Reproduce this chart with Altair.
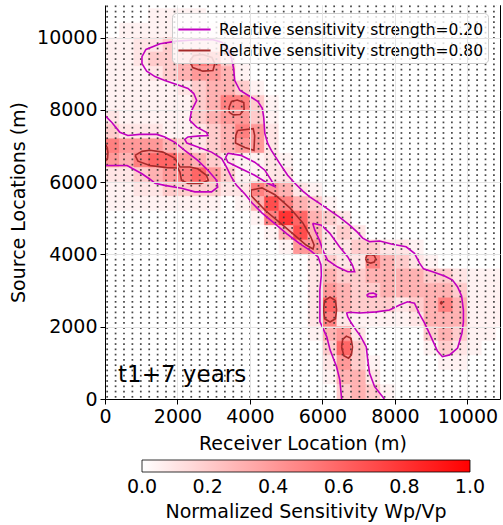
import altair as alt
import pandas as pd

# ---------------- data ----------------
extent = 10900
x_ticks = [0, 2000, 4000, 6000, 8000, 10000]
y_ticks = [0, 2000, 4000, 6000, 8000, 10000]
bar_ticks = [0, 0.2, 0.4, 0.6, 0.8, 1.0]
annotation = "t1+7 years"

# sensitivity field on a 400 m grid, rows listed from top (y=10800) to bottom (y=0)
# each character = value in tenths ('.' = 0.05)
cell = 400
heat_rows = [
    "0000000000000000000000000000",
    "000....000000000000000000000",
    "0........0000000000000000000",
    "..11222211.00000000000000000",
    "..1223552.000000000000000000",
    "...123443.000000000000000000",
    ".....12332.00000000000000000",
    "......23552.0000000000000000",
    "1.....23442.0000000000000000",
    "2111..1235410000000000000000",
    "5444321234410000000000000000",
    "435664321..1.000000000000000",
    "112345642..11000000000000000",
    "..112222115431.0000000000000",
    "........0.37532.000000000000",
    "0000000000.58632100000000000",
    "00000000000.3731210000000000",
    "000000000000.44112211.000000",
    "0000000000000012115321.00000",
    "0000000000000013223333221...",
    "0000000000000014322333332...",
    "0000000000000016322212353...",
    "00000000000000151....1333...",
    "00000000000000.3410000232..0",
    "0000000000000002620000.21.00",
    "000000000000000142.0000..000",
    "000000000000000.331000000000",
    "0000000000000000232.00000000",
]

# receiver / source grid
dot_x0, dot_dx, dot_nx = 60, 232, 47
dot_y0, dot_dy, dot_ny = 60, 146, 75

lvl_low = "Relative sensitivity strength=0.20"
lvl_high = "Relative sensitivity strength=0.80"

# contour 0.20 : left band (touches left edge)
a_x = [0, 190, 410, 630, 960, 1430, 1650, 1930, 2200, 2560, 2840, 3080, 3110, 2940, 2480, 2110, 1650, 1380, 1240, 1020, 770, 610, 0]
a_y = [7840, 7650, 7380, 7290, 7320, 7320, 7250, 7100, 6880, 6600, 6330, 6050, 5860, 5730, 5730, 5830, 5910, 5970, 6080, 6230, 6370, 6460, 6460]

# contour 0.20 : main diagonal band (touches bottom edge)
b_x = [6530, 6480, 6390, 6210, 6120, 5930, 5930, 5930, 5970, 5960, 5880, 5680, 5380, 5020, 4660, 4330, 4060, 3860,
       3630, 3490, 3350, 3220, 2940, 2560, 2260, 2200, 2290, 2620, 2840, 2800, 2530, 2340, 2390, 2530, 2450, 2290,
       1980, 1650, 1380, 1150, 1020, 1020, 1130, 1520, 1980, 2530, 2980, 3220, 3390, 3490, 3550, 3580, 3720, 4000,
       4220, 4340, 4380, 4410, 4490, 4590, 4820, 5040, 5240, 5460, 5650, 5920, 6200, 6470, 6750, 6970, 7110, 7300,
       7580, 7930, 8310, 8540, 8680, 8790, 9040, 9370, 9590, 9730, 9840, 9890, 9890, 9850, 9730, 9510, 9310, 9170,
       9000, 8820, 8680, 8540, 8350, 8130, 7850, 7490, 7030, 6750, 6670, 6700, 6780, 6890, 7050, 7210, 7250, 7300,
       7440, 7710]
b_y = [0, 530, 890, 1360, 1720, 2140, 2600, 3020, 3430, 3710, 3930, 4100, 4290, 4570, 4870, 5150, 5420, 5670,
       5910, 6140, 6420, 6650, 6830, 6970, 7080, 7180, 7250, 7280, 7290, 7380, 7520, 7710, 7980, 8260, 8450, 8590,
       8700, 8810, 8920, 9070, 9280, 9470, 9670, 9830, 9900, 9940, 9940, 9870, 9690, 9420, 9140, 8810, 8540, 8370,
       8230, 8040, 7790, 7350, 7070, 6880, 6520, 6190, 5970, 5750, 5590, 5410, 5220, 5030, 4810, 4610, 4450, 4350,
       4370, 4280, 4210, 4030, 3760, 3600, 3520, 3400, 3290, 3100, 2850, 2460, 2130, 1820, 1410, 1220, 1170, 1330,
       1710, 2100, 2350, 2650, 2690, 2600, 2460, 2410, 2380, 2400, 2380, 2270, 2130, 1960, 1740, 1440, 1080, 720,
       340, 0]

# contour 0.20 : holes
h1_x = [3390, 3750, 4130, 4410, 4590, 4680, 4490, 4130, 3660, 3390, 3330, 3390]
h1_y = [6800, 6740, 6550, 6330, 6050, 5880, 5970, 6190, 6420, 6550, 6680, 6800]
h2_x = [5730, 5970, 6200, 6470, 6700, 6830, 6890, 6700, 6420, 6140, 6010, 5920, 5790, 5730]
h2_y = [4860, 4810, 4590, 4210, 3930, 3700, 3520, 3520, 3650, 3840, 4120, 4390, 4670, 4860]
h3_x = [7220, 7290, 7400, 7490, 7480, 7360, 7250, 7220]
h3_y = [2870, 2920, 2930, 2890, 2840, 2820, 2840, 2870]

# contour 0.80 pieces
c1_x = [0, 60, 80, 70, 0]
c1_y = [7070, 6960, 6820, 6660, 6570]
c2_x = [830, 1020, 1240, 1600, 1930, 2070, 2340, 2560, 2800, 2850, 2660, 2290, 2110, 2070, 2010, 1700, 1240, 910, 830]
c2_y = [6740, 6850, 6880, 6830, 6660, 6420, 6420, 6370, 6190, 6050, 5960, 5960, 6050, 6270, 6390, 6400, 6460, 6580, 6740]
c3_x = [2340, 2450, 2700, 2950, 3030, 2980, 2700, 2420, 2340]
c3_y = [9360, 9500, 9530, 9450, 9280, 9090, 9070, 9170, 9360]
c4_x = [3420, 3490, 3650, 3830, 3840, 3730, 3540, 3430, 3420]
c4_y = [8060, 8230, 8270, 8200, 8010, 7870, 7860, 7930, 8060]
c5_x = [3660, 4090, 4130, 4110, 3860, 3600, 3610, 3660]
c5_y = [7430, 7480, 7290, 6880, 6960, 7080, 7290, 7430]
c6_x = [4030, 4330, 4690, 5100, 5460, 5680, 5770, 5740, 5550, 5190, 4800, 4440, 4170, 4030, 4030]
c6_y = [5780, 5840, 5650, 5290, 4870, 4480, 4260, 4150, 4260, 4570, 4900, 5200, 5480, 5630, 5780]
c7_x = [7190, 7230, 7330, 7430, 7470, 7430, 7330, 7230, 7190]
c7_y = [3880, 3970, 4000, 3970, 3880, 3790, 3760, 3790, 3880]
c8_x = [6030, 6060, 6210, 6360, 6390, 6360, 6210, 6060, 6030]
c8_y = [2470, 2720, 2820, 2720, 2470, 2220, 2130, 2220, 2470]
c9_x = [6530, 6560, 6660, 6790, 6830, 6800, 6720, 6590, 6530]
c9_y = [1440, 1650, 1740, 1680, 1440, 1220, 1130, 1200, 1440]
c10_x = [9250, 9280, 9310, 9280, 9250]
c10_y = [2660, 2690, 2660, 2630, 2660]

# ---------------- tables ----------------
heat_records = []
n_rows = len(heat_rows)
for r, row in enumerate(heat_rows):
    j = n_rows - 1 - r
    for i, ch in enumerate(row):
        v = 0.05 if ch == "." else int(ch) / 10
        heat_records.append({"x": i * cell, "x2": (i + 1) * cell,
                             "y": j * cell, "y2": (j + 1) * cell, "v": v})
heat_df = pd.DataFrame(heat_records)

dots_df = pd.DataFrame([{"x": dot_x0 + i * dot_dx, "y": dot_y0 + k * dot_dy}
                        for i in range(dot_nx) for k in range(dot_ny)
                        if dot_y0 + k * dot_dy < extent])

pieces = [
    ("A", lvl_low, a_x, a_y), ("B", lvl_low, b_x, b_y),
    ("H1", lvl_low, h1_x, h1_y), ("H2", lvl_low, h2_x, h2_y), ("H3", lvl_low, h3_x, h3_y),
    ("C1", lvl_high, c1_x, c1_y), ("C2", lvl_high, c2_x, c2_y), ("C3", lvl_high, c3_x, c3_y),
    ("C4", lvl_high, c4_x, c4_y), ("C5", lvl_high, c5_x, c5_y), ("C6", lvl_high, c6_x, c6_y),
    ("C7", lvl_high, c7_x, c7_y), ("C8", lvl_high, c8_x, c8_y), ("C9", lvl_high, c9_x, c9_y),
    ("C10", lvl_high, c10_x, c10_y),
]
line_records = []
for cid, lvl, xs, ys in pieces:
    for k, (xv, yv) in enumerate(zip(xs, ys)):
        line_records.append({"cid": cid, "level": lvl, "ord": k, "x": xv, "y": yv})
lines_df = pd.DataFrame(line_records)

# ---------------- chart ----------------
font = "DejaVu Sans"
xscale = alt.Scale(domain=[0, extent], nice=False, zero=False)
yscale = alt.Scale(domain=[0, extent], nice=False, zero=False)
# a hair beyond [0, 1] so that the end labels of the colour bar stay centred
heat_scale = alt.Scale(domain=[-0.0001, 1.0001], range=["#ffffff", "#ff0000"], interpolate="rgb")

x_axis = alt.Axis(title="Receiver Location (m)", values=x_ticks, format="d", labelFontSize=19,
                  titleFontSize=19, titleFontWeight="normal", labelColor="black", titleColor="black",
                  tickColor="black", domainColor="black", tickSize=5, labelPadding=3, titlePadding=8,
                  grid=True, gridColor="#e4e4e4", zindex=1, labelFlush=False)
y_axis = alt.Axis(title="Source Locations (m)", values=y_ticks, format="d", labelFontSize=19,
                  titleFontSize=19, titleFontWeight="normal", labelColor="black", titleColor="black",
                  tickColor="black", domainColor="black", tickSize=5, labelPadding=3, titlePadding=8,
                  grid=True, gridColor="#e4e4e4", zindex=1, labelFlush=False)

heat = alt.Chart(heat_df).mark_rect(clip=True, strokeWidth=0.6).encode(
    x=alt.X("x:Q", scale=xscale, axis=x_axis),
    x2="x2:Q",
    y=alt.Y("y:Q", scale=yscale, axis=y_axis),
    y2="y2:Q",
    fill=alt.Fill("v:Q", scale=heat_scale, legend=alt.Legend(
        title="Normalized Sensitivity Wp/Vp", orient="none", legendX=37, legendY=455,
        direction="horizontal", gradientLength=328, gradientThickness=12,
        titleOrient="bottom", titleAnchor="middle", titleFontSize=19, titleFontWeight="normal",
        titleColor="black", labelColor="black", titlePadding=6, titleLimit=500,
        labelFontSize=19, values=bar_ticks, format=".1f",
        labelOverlap=False, labelOffset=6,
        gradientStrokeColor="black", gradientStrokeWidth=0.8)),
    stroke=alt.Stroke("v:Q", scale=heat_scale, legend=None),
)

dots = alt.Chart(dots_df).mark_square(size=3, color="#333333", opacity=0.9, clip=True).encode(
    x=alt.X("x:Q", scale=xscale), y=alt.Y("y:Q", scale=yscale))

lines = alt.Chart(lines_df).mark_line(clip=True, strokeWidth=1.6).encode(
    x=alt.X("x:Q", scale=xscale),
    y=alt.Y("y:Q", scale=yscale),
    detail="cid:N",
    order="ord:Q",
    stroke=alt.Stroke("level:N", scale=alt.Scale(domain=[lvl_low, lvl_high], range=["#c000c0", "#a52a2a"]),
                      legend=alt.Legend(title=None, orient="none", legendX=67, legendY=8,
                                        symbolType="M-1.4,0L1.4,0", symbolSize=529, symbolStrokeWidth=2,
                                        symbolOffset=6,
                                        labelFontSize=15.5, labelColor="black", labelLimit=500,
                                        labelOffset=12, fillColor="rgba(255,255,255,0.8)",
                                        strokeColor="#cccccc", cornerRadius=4, padding=4, rowPadding=0)),
)

text = alt.Chart(pd.DataFrame({"t": [annotation]})).mark_text(
    align="left", baseline="alphabetic", fontSize=23, color="black").encode(
    text="t:N", x=alt.value(13), y=alt.value(377))

chart = alt.layer(heat, dots, lines, text).resolve_scale(stroke="independent").properties(
    width=395, height=394,
    autosize=alt.AutoSizeParams(type="none"),
    padding={"left": 105, "top": 5, "right": 3, "bottom": 126},
).configure(font=font).configure_view(stroke="black", strokeWidth=1)

chart.save("out.html", embed_options={"renderer": "svg", "actions": False})
